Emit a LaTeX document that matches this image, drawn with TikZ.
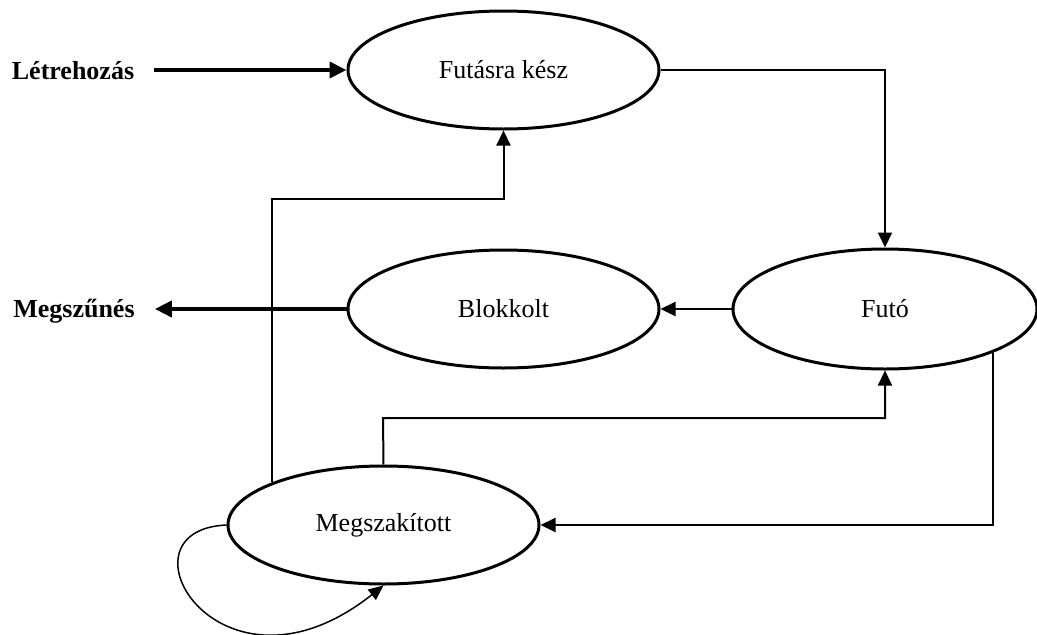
\documentclass[tikz,border=0pt]{standalone}
\usepackage{fontspec}
\setmainfont{Liberation Serif}
\usetikzlibrary{arrows.meta,shapes.geometric}
\begin{document}
\begin{tikzpicture}[x=1pt,y=-1pt,
  state/.style={ellipse,draw,line width=3pt,minimum width=311pt,minimum height=118pt,
    inner sep=0pt,font=\fontsize{26}{30}\selectfont},
  side/.style={inner ysep=0pt,inner xsep=20pt,font=\fontsize{26}{30}\selectfont\bfseries},
  flow/.style={line width=2pt,-{Triangle[length=15pt,width=14pt]}},
  major/.style={line width=4pt,-{Triangle[length=17pt,width=16pt]}},
  loop/.style={line width=1.5pt,-{Triangle[length=15pt,width=13pt]}}]
\useasboundingbox (0,0) rectangle (1037,635);

% states
\node[state] (fk)   at (503.5,70)  {Futásra kész};
\node[state] (blk)  at (503.5,309) {Blokkolt};
\node[state,minimum width=304pt,minimum height=120pt] (futo) at (885,309) {Futó};
\node[state] (msz)  at (383.5,525) {Megszakított};

% entry and exit labels
\node[side] (letr)  at (73,71)  {Létrehozás};
\node[side] (megsz) at (74,311) {Megszűnés};

% helper corners
\coordinate (k1) at (273,199);
\coordinate (k2) at (383,418);

% transitions
\draw[major] (letr.east |- fk.west) -- (fk.west);
\draw[major] (blk.west) -- (blk.west -| megsz.east);
\draw[flow] (fk.east) -| (futo.north);
\draw[flow] (futo.west) -- (blk.east);
\draw[flow] (futo.-22) |- (msz.east);
\draw[flow] (msz.north) -- (k2) -| (futo.south);
\draw[flow] (msz.159) -- (msz.159 |- k1) -| (fk.south);
\draw[loop] (msz.west) .. controls (110,530) and (220,715) .. (msz.south);
\end{tikzpicture}
\end{document}
